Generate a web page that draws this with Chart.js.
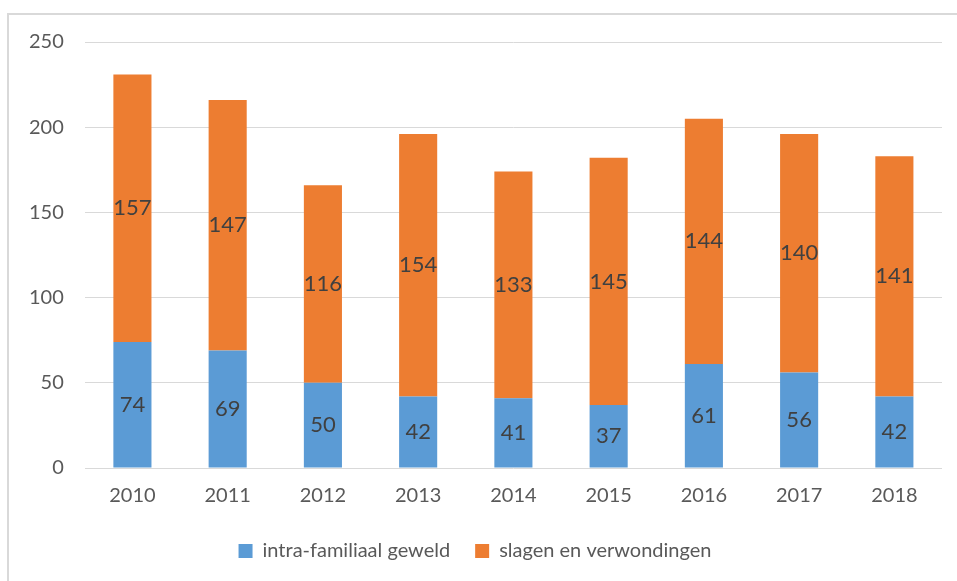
<!DOCTYPE html>
<html>
<head>
<meta charset="utf-8">
<script src="https://cdn.jsdelivr.net/npm/chart.js@4"></script>
<style>
  html, body { margin: 0; padding: 0; background: #fff; }
  #kader {
    position: absolute; left: 7px; top: 13px; width: 960px; height: 580px;
    border-left: 2px solid #d9d9d9; border-top: 2px solid #d9d9d9;
  }
  #wrap { position: absolute; left: 0; top: 0; width: 957px; height: 581px; }
</style>
</head>
<body>
<div id="kader"></div>
<div id="wrap"><canvas id="grafiek"></canvas></div>
<script>
// jaren en waarden
const jaren = ['2010', '2011', '2012', '2013', '2014', '2015', '2016', '2017', '2018'];
const intraFamiliaal = [74, 69, 50, 42, 41, 37, 61, 56, 42];
const slagenVerwondingen = [157, 147, 116, 154, 133, 145, 144, 140, 141];
const yTicks = [0, 50, 100, 150, 200, 250];

const lettertype = 'Lato, "Open Sans", sans-serif';

// labels midden in elk segment tekenen
const segmentLabels = {
  id: 'segmentLabels',
  afterDatasetsDraw(chart) {
    const ctx = chart.ctx;
    ctx.save();
    ctx.font = '22px ' + lettertype;
    ctx.fillStyle = '#404040';
    ctx.textAlign = 'center';
    ctx.textBaseline = 'middle';
    chart.data.datasets.forEach((ds, i) => {
      chart.getDatasetMeta(i).data.forEach((bar, j) => {
        const y = (bar.y + bar.base) / 2;
        ctx.fillText(ds.data[j], bar.x, y);
      });
    });
    ctx.restore();
  }
};

new Chart(document.getElementById('grafiek').getContext('2d'), {
  type: 'bar',
  data: {
    labels: jaren,
    datasets: [
      { label: 'intra-familiaal geweld', data: intraFamiliaal, backgroundColor: '#5b9bd5' },
      { label: 'slagen en verwondingen', data: slagenVerwondingen, backgroundColor: '#ed7d31' }
    ]
  },
  options: {
    responsive: true,
    maintainAspectRatio: false,
    animation: false,
    layout: { padding: { left: 8, right: 15, top: 42, bottom: 10 } },
    datasets: { bar: { categoryPercentage: 1, barPercentage: 0.4 } },
    scales: {
      x: {
        stacked: true,
        grid: { display: false },
        border: { display: false },
        ticks: { color: '#595959', font: { family: lettertype, size: 20 }, padding: 8 }
      },
      y: {
        stacked: true,
        min: 0, max: 250,
        afterBuildTicks(s) { s.ticks = yTicks.map(v => ({ value: v })); },
        grid: { color: '#d9d9d9', lineWidth: 1, drawTicks: false },
        border: { display: false },
        ticks: { color: '#595959', font: { family: lettertype, size: 20 }, padding: 21 }
      }
    },
    plugins: {
      legend: {
        position: 'bottom',
        labels: {
          color: '#595959',
          font: { family: lettertype, size: 20 },
          boxWidth: 14, boxHeight: 14,
          padding: 25
        }
      },
      tooltip: { enabled: false }
    }
  },
  plugins: [segmentLabels]
});
</script>
</body>
</html>
